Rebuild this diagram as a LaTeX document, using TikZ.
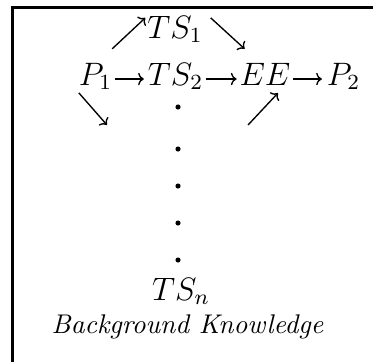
\documentclass[tikz,border=0pt]{standalone}
\usetikzlibrary{arrows.meta}

\begin{document}
\begin{tikzpicture}[x=0.37pt, y=-0.37pt,
  term/.style={inner sep=0pt, outer sep=0pt, anchor=base,
               font=\fontsize{12}{14}\selectfont},
  note/.style={inner sep=0pt, outer sep=0pt, anchor=base,
               font=\fontsize{10}{12}\selectfont\itshape},
  ell/.style={circle, fill, inner sep=0pt, minimum size=1.9pt},
  arr/.style={-{To[length=2.1pt, width=4.6pt]}, line width=0.5pt}
]
  \useasboundingbox (0,0) rectangle (373,362);
  % frame, open to the right and below
  \draw[line width=0.75pt] (373,7.5) -| (12.5,362);

  \node[term] (P1)  at (95.5,85)  {$P_1$};
  \node[term] (TS1) at (175,38)   {$TS_1$};
  \node[term] (TS2) at (175.5,85) {$TS_2$};
  \node[term] (EE)  at (265,85)   {$EE$};
  \node[term] (P2)  at (343.5,85) {$P_2$};
  \node[term] (TSn) at (181,300)  {$TS_n$};
  \node[note] (bk)  at (187.5,333) {Background Knowledge};

  \foreach \y [count=\i] in {107,149,186,223,260}
    \node[ell] (d\i) at (178,\y) {};

  \coordinate (lowin)  at (107,125);
  \coordinate (lowout) at (248,125);

  % main row
  \draw[arr] ([shift={(3,-6)}]P1.base east) -- ([shift={(-4,-6)}]TS2.base west);
  \draw[arr] ([shift={(3,-6)}]TS2.base east) -- ([shift={(-3,-6)}]EE.base west);
  \draw[arr] ([shift={(3,-6)}]EE.base east) -- ([shift={(-5,-6)}]P2.base west);
  % upper branch
  \draw[arr] ([shift={(0,-14)}]P1.north east) -- ([shift={(-2,2)}]TS1.north west);
  \draw[arr] ([shift={(8,2)}]TS1.north east) -- ([shift={(5,-14)}]EE.north west);
  % lower branch
  \draw[arr] ([shift={(0,3)}]P1.south west) -- (lowin);
  \draw[arr] (lowout) -- ([shift={(13,8)}]EE.south);
\end{tikzpicture}
\end{document}
